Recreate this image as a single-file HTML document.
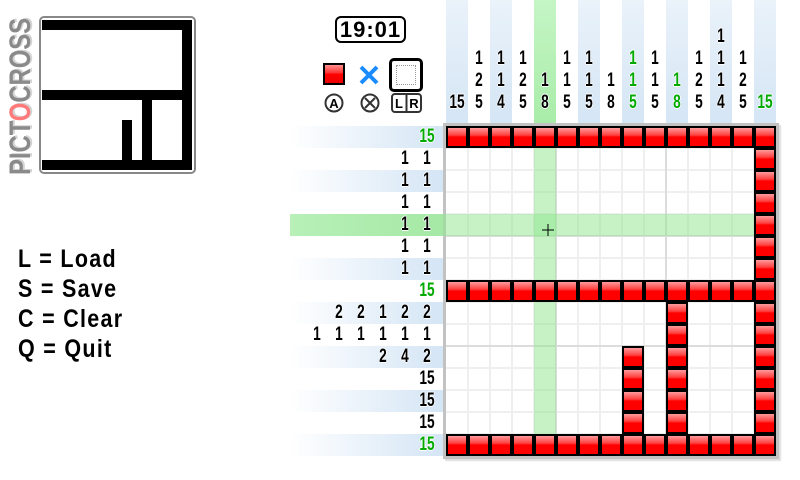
<!DOCTYPE html>
<html><head><meta charset="utf-8">
<style>
*{margin:0;padding:0;box-sizing:border-box}
body{width:800px;height:480px;background:#fff;position:relative;overflow:hidden;font-family:"Liberation Sans",sans-serif}
.a{position:absolute}
.cs{position:absolute;top:0;width:22px;height:126px;background:linear-gradient(#eaf2fa,#d4e5f5)}
.rs{position:absolute;left:290px;width:153px;height:22px;background:linear-gradient(90deg,rgba(214,230,245,0),#d4e5f5)}
.cc{position:absolute;width:22px;bottom:366px;display:flex;flex-direction:column;align-items:center}
.cc span,.rc span{display:block;width:22px;height:22px;line-height:22px;text-align:center;font-size:19px;font-weight:bold;color:#000;text-shadow:1px 0 #fff,-1px 0 #fff,0 1px #fff,0 -1px #fff;transform:scaleX(0.72)}
.rc{position:absolute;right:362px;height:22px;display:flex}
.g{color:#0a0 !important}
.cell{position:absolute;width:22px;height:22px;background:#000}
.cell i{position:absolute;left:2px;top:2px;width:18px;height:18px;background:linear-gradient(#ff9a9a 0%,#ff4040 40%,#f00 50%,#f00 100%)}
.leg{position:absolute;left:18px;font-size:25px;font-weight:bold;letter-spacing:1.5px;white-space:nowrap;transform:scaleX(0.86);transform-origin:left}
</style></head><body>

<div class="cs" style="left:446px"></div>
<div class="cs" style="left:490px"></div>
<div class="cs" style="left:534px;background:linear-gradient(#c5f5c5,#a8eca8)"></div>
<div class="cs" style="left:578px"></div>
<div class="cs" style="left:622px"></div>
<div class="cs" style="left:666px"></div>
<div class="cs" style="left:710px"></div>
<div class="cs" style="left:754px"></div>

<div class="rs" style="top:126px"></div>
<div class="rs" style="top:170px"></div>
<div class="rs" style="top:214px;background:linear-gradient(90deg,#b8f0b8,#a5e8a5)"></div>
<div class="rs" style="top:258px"></div>
<div class="rs" style="top:302px"></div>
<div class="rs" style="top:346px"></div>
<div class="rs" style="top:390px"></div>
<div class="rs" style="top:434px"></div>

<div class="a" style="left:443px;top:123px;width:336px;height:336px;background:#fff;border:3px solid #c2c2c2;box-shadow:2px 2px 1px #ddd"></div>
<svg class="a" style="left:446px;top:126px" width="330" height="330">
<g stroke="#efefef" stroke-width="2">
<line x1="22" y1="0" x2="22" y2="330"/><line x1="44" y1="0" x2="44" y2="330"/><line x1="66" y1="0" x2="66" y2="330"/><line x1="88" y1="0" x2="88" y2="330"/><line x1="132" y1="0" x2="132" y2="330"/><line x1="154" y1="0" x2="154" y2="330"/><line x1="176" y1="0" x2="176" y2="330"/><line x1="198" y1="0" x2="198" y2="330"/><line x1="242" y1="0" x2="242" y2="330"/><line x1="264" y1="0" x2="264" y2="330"/><line x1="286" y1="0" x2="286" y2="330"/><line x1="308" y1="0" x2="308" y2="330"/>
<line y1="22" x1="0" y2="22" x2="330"/><line y1="44" x1="0" y2="44" x2="330"/><line y1="66" x1="0" y2="66" x2="330"/><line y1="88" x1="0" y2="88" x2="330"/><line y1="132" x1="0" y2="132" x2="330"/><line y1="154" x1="0" y2="154" x2="330"/><line y1="176" x1="0" y2="176" x2="330"/><line y1="198" x1="0" y2="198" x2="330"/><line y1="242" x1="0" y2="242" x2="330"/><line y1="264" x1="0" y2="264" x2="330"/><line y1="286" x1="0" y2="286" x2="330"/><line y1="308" x1="0" y2="308" x2="330"/>
</g>
<g stroke="#dcdcdc" stroke-width="2">
<line x1="110" y1="0" x2="110" y2="330"/><line x1="220" y1="0" x2="220" y2="330"/>
<line y1="110" x1="0" y2="110" x2="330"/><line y1="220" x1="0" y2="220" x2="330"/>
</g>
<rect x="88" y="0" width="22" height="330" fill="#8ee68e" opacity="0.5"/>
<rect x="0" y="88" width="330" height="22" fill="#8ee68e" opacity="0.5"/>
<line x1="96" y1="104" x2="108" y2="104" stroke="#000"/><line x1="102" y1="98" x2="102" y2="110" stroke="#000"/>
</svg>
<div class="a" style="left:443px;top:214px;width:3px;height:22px;background:#a5d8a5"></div>

<div id="cells"></div>

<div class="cc" style="left:446px"><span>15</span></div>
<div class="cc" style="left:468px"><span>1</span><span>2</span><span>5</span></div>
<div class="cc" style="left:490px"><span>1</span><span>1</span><span>4</span></div>
<div class="cc" style="left:512px"><span>1</span><span>2</span><span>5</span></div>
<div class="cc" style="left:534px"><span>1</span><span>8</span></div>
<div class="cc" style="left:556px"><span>1</span><span>1</span><span>5</span></div>
<div class="cc" style="left:578px"><span>1</span><span>1</span><span>5</span></div>
<div class="cc" style="left:600px"><span>1</span><span>8</span></div>
<div class="cc" style="left:622px"><span class="g">1</span><span class="g">1</span><span class="g">5</span></div>
<div class="cc" style="left:644px"><span>1</span><span>1</span><span>5</span></div>
<div class="cc" style="left:666px"><span class="g">1</span><span class="g">8</span></div>
<div class="cc" style="left:688px"><span>1</span><span>2</span><span>5</span></div>
<div class="cc" style="left:710px"><span>1</span><span>1</span><span>1</span><span>4</span></div>
<div class="cc" style="left:732px"><span>1</span><span>2</span><span>5</span></div>
<div class="cc" style="left:754px"><span class="g">15</span></div>

<div class="rc" style="top:126px"><span class="g">15</span></div>
<div class="rc" style="top:148px"><span>1</span><span>1</span></div>
<div class="rc" style="top:170px"><span>1</span><span>1</span></div>
<div class="rc" style="top:192px"><span>1</span><span>1</span></div>
<div class="rc" style="top:214px"><span>1</span><span>1</span></div>
<div class="rc" style="top:236px"><span>1</span><span>1</span></div>
<div class="rc" style="top:258px"><span>1</span><span>1</span></div>
<div class="rc" style="top:280px"><span class="g">15</span></div>
<div class="rc" style="top:302px"><span>2</span><span>2</span><span>1</span><span>2</span><span>2</span></div>
<div class="rc" style="top:324px"><span>1</span><span>1</span><span>1</span><span>1</span><span>1</span><span>1</span></div>
<div class="rc" style="top:346px"><span>2</span><span>4</span><span>2</span></div>
<div class="rc" style="top:368px"><span>15</span></div>
<div class="rc" style="top:390px"><span>15</span></div>
<div class="rc" style="top:412px"><span>15</span></div>
<div class="rc" style="top:434px"><span class="g">15</span></div>

<div class="a" style="left:39px;top:16px;width:157px;height:158px;border:2px solid #888;border-radius:5px;background:#fff"></div>
<svg class="a" style="left:42px;top:20px" width="152" height="152">
<g fill="#000">
<rect x="0" y="0" width="150" height="10"/>
<rect x="0" y="70" width="150" height="10"/>
<rect x="0" y="140" width="150" height="10"/>
<rect x="140" y="0" width="10" height="150"/>
<rect x="100" y="80" width="10" height="70"/>
<rect x="80" y="100" width="10" height="50"/>
</g></svg>

<svg class="a" style="left:0;top:0" width="40" height="190">
<text transform="translate(31,175) rotate(-90)" x="1" y="1" font-size="30" font-weight="bold" fill="#d4d4d4" textLength="157" lengthAdjust="spacingAndGlyphs" font-family="Liberation Sans, sans-serif">PICTOCROSS</text>
<text transform="translate(30,175) rotate(-90)" font-size="30" font-weight="bold" fill="#8a8a8a" textLength="157" lengthAdjust="spacingAndGlyphs" font-family="Liberation Sans, sans-serif">PICT<tspan fill="#ff7a7a">O</tspan>CROSS</text>
</svg>

<div class="a" style="left:335px;top:16px;width:71px;height:27px;border:2px solid #000;border-radius:6px;text-align:center;font-size:22px;font-weight:bold;line-height:23px;letter-spacing:1px">19:01</div>

<div class="a" style="left:323px;top:63px;width:22px;height:22px;border:2px solid #000;background:linear-gradient(#ff9090 0%,#ff3030 45%,#f00 50%,#e00 100%)"></div>
<svg class="a" style="left:358px;top:64px" width="22" height="22"><path d="M3 3L19 19M19 3L3 19" stroke="#1a8cff" stroke-width="4"/></svg>
<div class="a" style="left:389px;top:58px;width:34px;height:34px;border:3px solid #000;border-radius:5px"></div>
<div class="a" style="left:396px;top:65px;width:20px;height:20px;border:1px dotted #999"></div>
<svg class="a" style="left:320px;top:92px" width="110" height="22">
<circle cx="14" cy="11" r="8.5" fill="none" stroke="#333" stroke-width="2"/>
<text x="14" y="16" font-size="13" font-weight="bold" text-anchor="middle" font-family="Liberation Sans">A</text>
<circle cx="50" cy="11" r="8.5" fill="none" stroke="#333" stroke-width="2"/>
<path d="M45 6L55 16M55 6L45 16" stroke="#333" stroke-width="2"/>
<rect x="72" y="2" width="29" height="18" rx="3" fill="none" stroke="#333" stroke-width="2"/>
<line x1="86.5" y1="2" x2="86.5" y2="20" stroke="#333" stroke-width="2"/>
<text x="79" y="16" font-size="13" font-weight="bold" text-anchor="middle" font-family="Liberation Sans">L</text>
<text x="94" y="16" font-size="13" font-weight="bold" text-anchor="middle" font-family="Liberation Sans">R</text>
</svg>

<div class="leg" style="top:245px">L = Load</div>
<div class="leg" style="top:275px">S = Save</div>
<div class="leg" style="top:305px">C = Clear</div>
<div class="leg" style="top:335px">Q = Quit</div>

<script>
var h='',X=446,Y=126;
function c(col,row){h+='<div class="cell" style="left:'+(X+col*22)+'px;top:'+(Y+row*22)+'px"><i></i></div>';}
for(var i=0;i<15;i++){c(i,0);c(i,7);c(i,14);c(14,i);}
for(var r=8;r<14;r++)c(10,r);
for(var r=10;r<14;r++)c(8,r);
document.getElementById('cells').innerHTML=h;
</script>
</body></html>
